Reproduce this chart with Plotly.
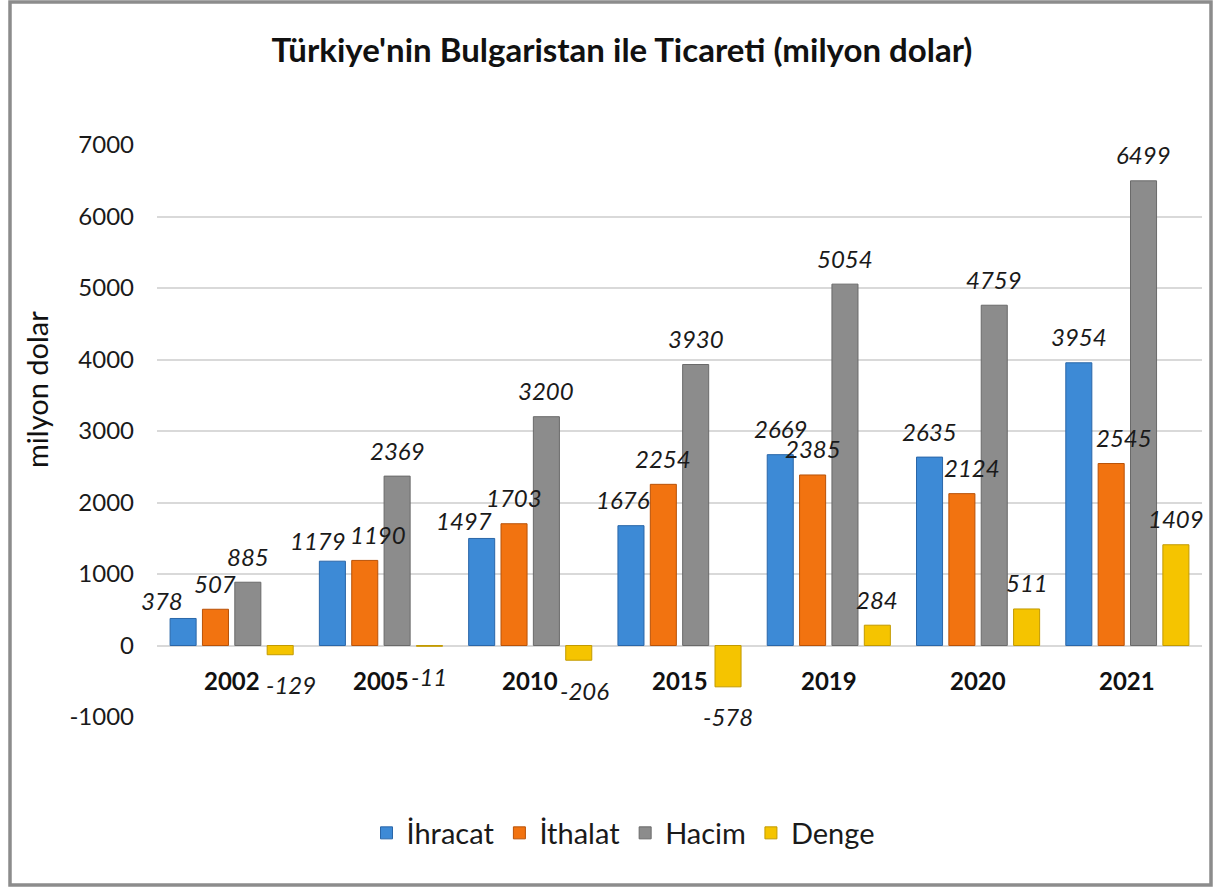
import plotly.graph_objects as go

# ---- data ----
categories = ["2002", "2005", "2010", "2015", "2019", "2020", "2021"]
ihracat = [378, 1179, 1497, 1676, 2669, 2635, 3954]
ithalat = [507, 1190, 1703, 2254, 2385, 2124, 2545]
hacim = [885, 2369, 3200, 3930, 5054, 4759, 6499]
denge = [-129, -11, -206, -578, 284, 511, 1409]

series_names = ["İhracat", "İthalat", "Hacim", "Denge"]
series_values = [ihracat, ithalat, hacim, denge]
y_ticks = [-1000, 0, 1000, 2000, 3000, 4000, 5000, 6000, 7000]
y_tick_labels = [str(v) for v in y_ticks]

# ---- styles ----
FONT = "Lato, 'Open Sans', sans-serif"
colors = ["#3d8ad6", "#f27310", "#8c8c8c", "#f5c400"]
edges = ["#2a66a8", "#b85208", "#6a6a6a", "#c29a00"]
BARGAP = 0.133
GROUPGAP = 0.195

# label nudges in pixels (dx, dy) for a few manually placed labels
nudges = {
    (0, 0): (-21, -8), (0, 1): (-14, -5), (1, 1): (13, 0),
    (0, 2): (-18, -8), (0, 3): (-8, 0), (3, 0): (11, 0),
    (3, 2): (6, 0), (1, 5): (10, 0), (1, 6): (13, 0),
}

x_pos = list(range(len(categories)))

fig = go.Figure()
for i, (name, vals) in enumerate(zip(series_names, series_values)):
    fig.add_trace(go.Bar(
        x=x_pos, y=vals, name=name,
        marker=dict(color=colors[i], line=dict(color=edges[i], width=1)),
        hoverinfo="skip",
    ))

annotations = []
slot = (1 - BARGAP) / len(series_names)
for i, vals in enumerate(series_values):
    off = -(1 - BARGAP) / 2 + (i + 0.5) * slot
    for j, v in enumerate(vals):
        dx, dy = nudges.get((i, j), (0, 0))
        annotations.append(dict(
            x=x_pos[j] + off, y=v, xref="x", yref="y",
            text=str(v), showarrow=False,
            yanchor="middle", xanchor="center",
            yshift=(26 if v >= 0 else -30) + dy, xshift=dx,
            font=dict(family=FONT, size=24, color="#1a1a1a", style="italic"),
        ))

for j, c in enumerate(categories):
    annotations.append(dict(
        x=x_pos[j], y=0, xref="x", yref="y", text=c, showarrow=False,
        yanchor="middle", xanchor="center", yshift=-35,
        font=dict(family=FONT, size=24, color="#111111", weight="bold"),
    ))

W, H = 1219, 890
L, R, T, B = 157, 17, 145, 173
pw, ph = W - L - R, H - T - B

def px_x(p):
    return (p - L) / pw

def px_y(p):
    return (H - B - p) / ph

# axis title
annotations.append(dict(
    x=px_x(36), y=px_y(390), xref="paper", yref="paper",
    text="milyon dolar", showarrow=False, textangle=-90,
    xanchor="center", yanchor="middle",
    font=dict(family=FONT, size=29, color="#111111"),
))

fig.update_layout(
    width=W, height=H,
    margin=dict(l=L, r=R, t=T, b=B, pad=0),
    paper_bgcolor="white", plot_bgcolor="white",
    barmode="group", bargap=BARGAP, bargroupgap=GROUPGAP,
    title=dict(
        text="<b>Türkiye'nin Bulgaristan ile Ticareti (milyon dolar)</b>",
        x=px_x(622), xref="paper", xanchor="center",
        y=1 - 50 / H, yref="container", yanchor="middle",
        font=dict(family=FONT, size=33, color="#111111"),
    ),
    xaxis=dict(
        range=[-0.5, len(categories) - 0.5],
        showticklabels=False, showgrid=False, zeroline=False,
        showline=False, ticks="",
    ),
    yaxis=dict(
        range=[-1000, 7000], tickvals=y_ticks, ticktext=y_tick_labels,
        showgrid=True, gridcolor="#d9d9d9", gridwidth=1.5,
        zeroline=True, zerolinecolor="#d9d9d9", zerolinewidth=1.5,
        showline=False, ticks="", ticklabelstandoff=22,
        tickfont=dict(family=FONT, size=24, color="#1a1a1a"),
    ),
    legend=dict(
        orientation="h", x=px_x(623), xanchor="center",
        y=px_y(833), yanchor="middle",
        font=dict(family=FONT, size=29, color="#1a1a1a"),
        bgcolor="rgba(0,0,0,0)",
    ),
    annotations=annotations,
    shapes=[dict(
        type="rect", xref="paper", yref="paper",
        x0=px_x(10), x1=px_x(1211), y0=px_y(885), y1=px_y(2),
        line=dict(color="#8c8c8c", width=3.5), fillcolor="rgba(0,0,0,0)",
        layer="above",
    )],
)

fig.write_html(
    "out.html",
    config={"displayModeBar": False},
    post_script="document.body.style.margin='0';document.body.style.overflow='hidden';",
)
